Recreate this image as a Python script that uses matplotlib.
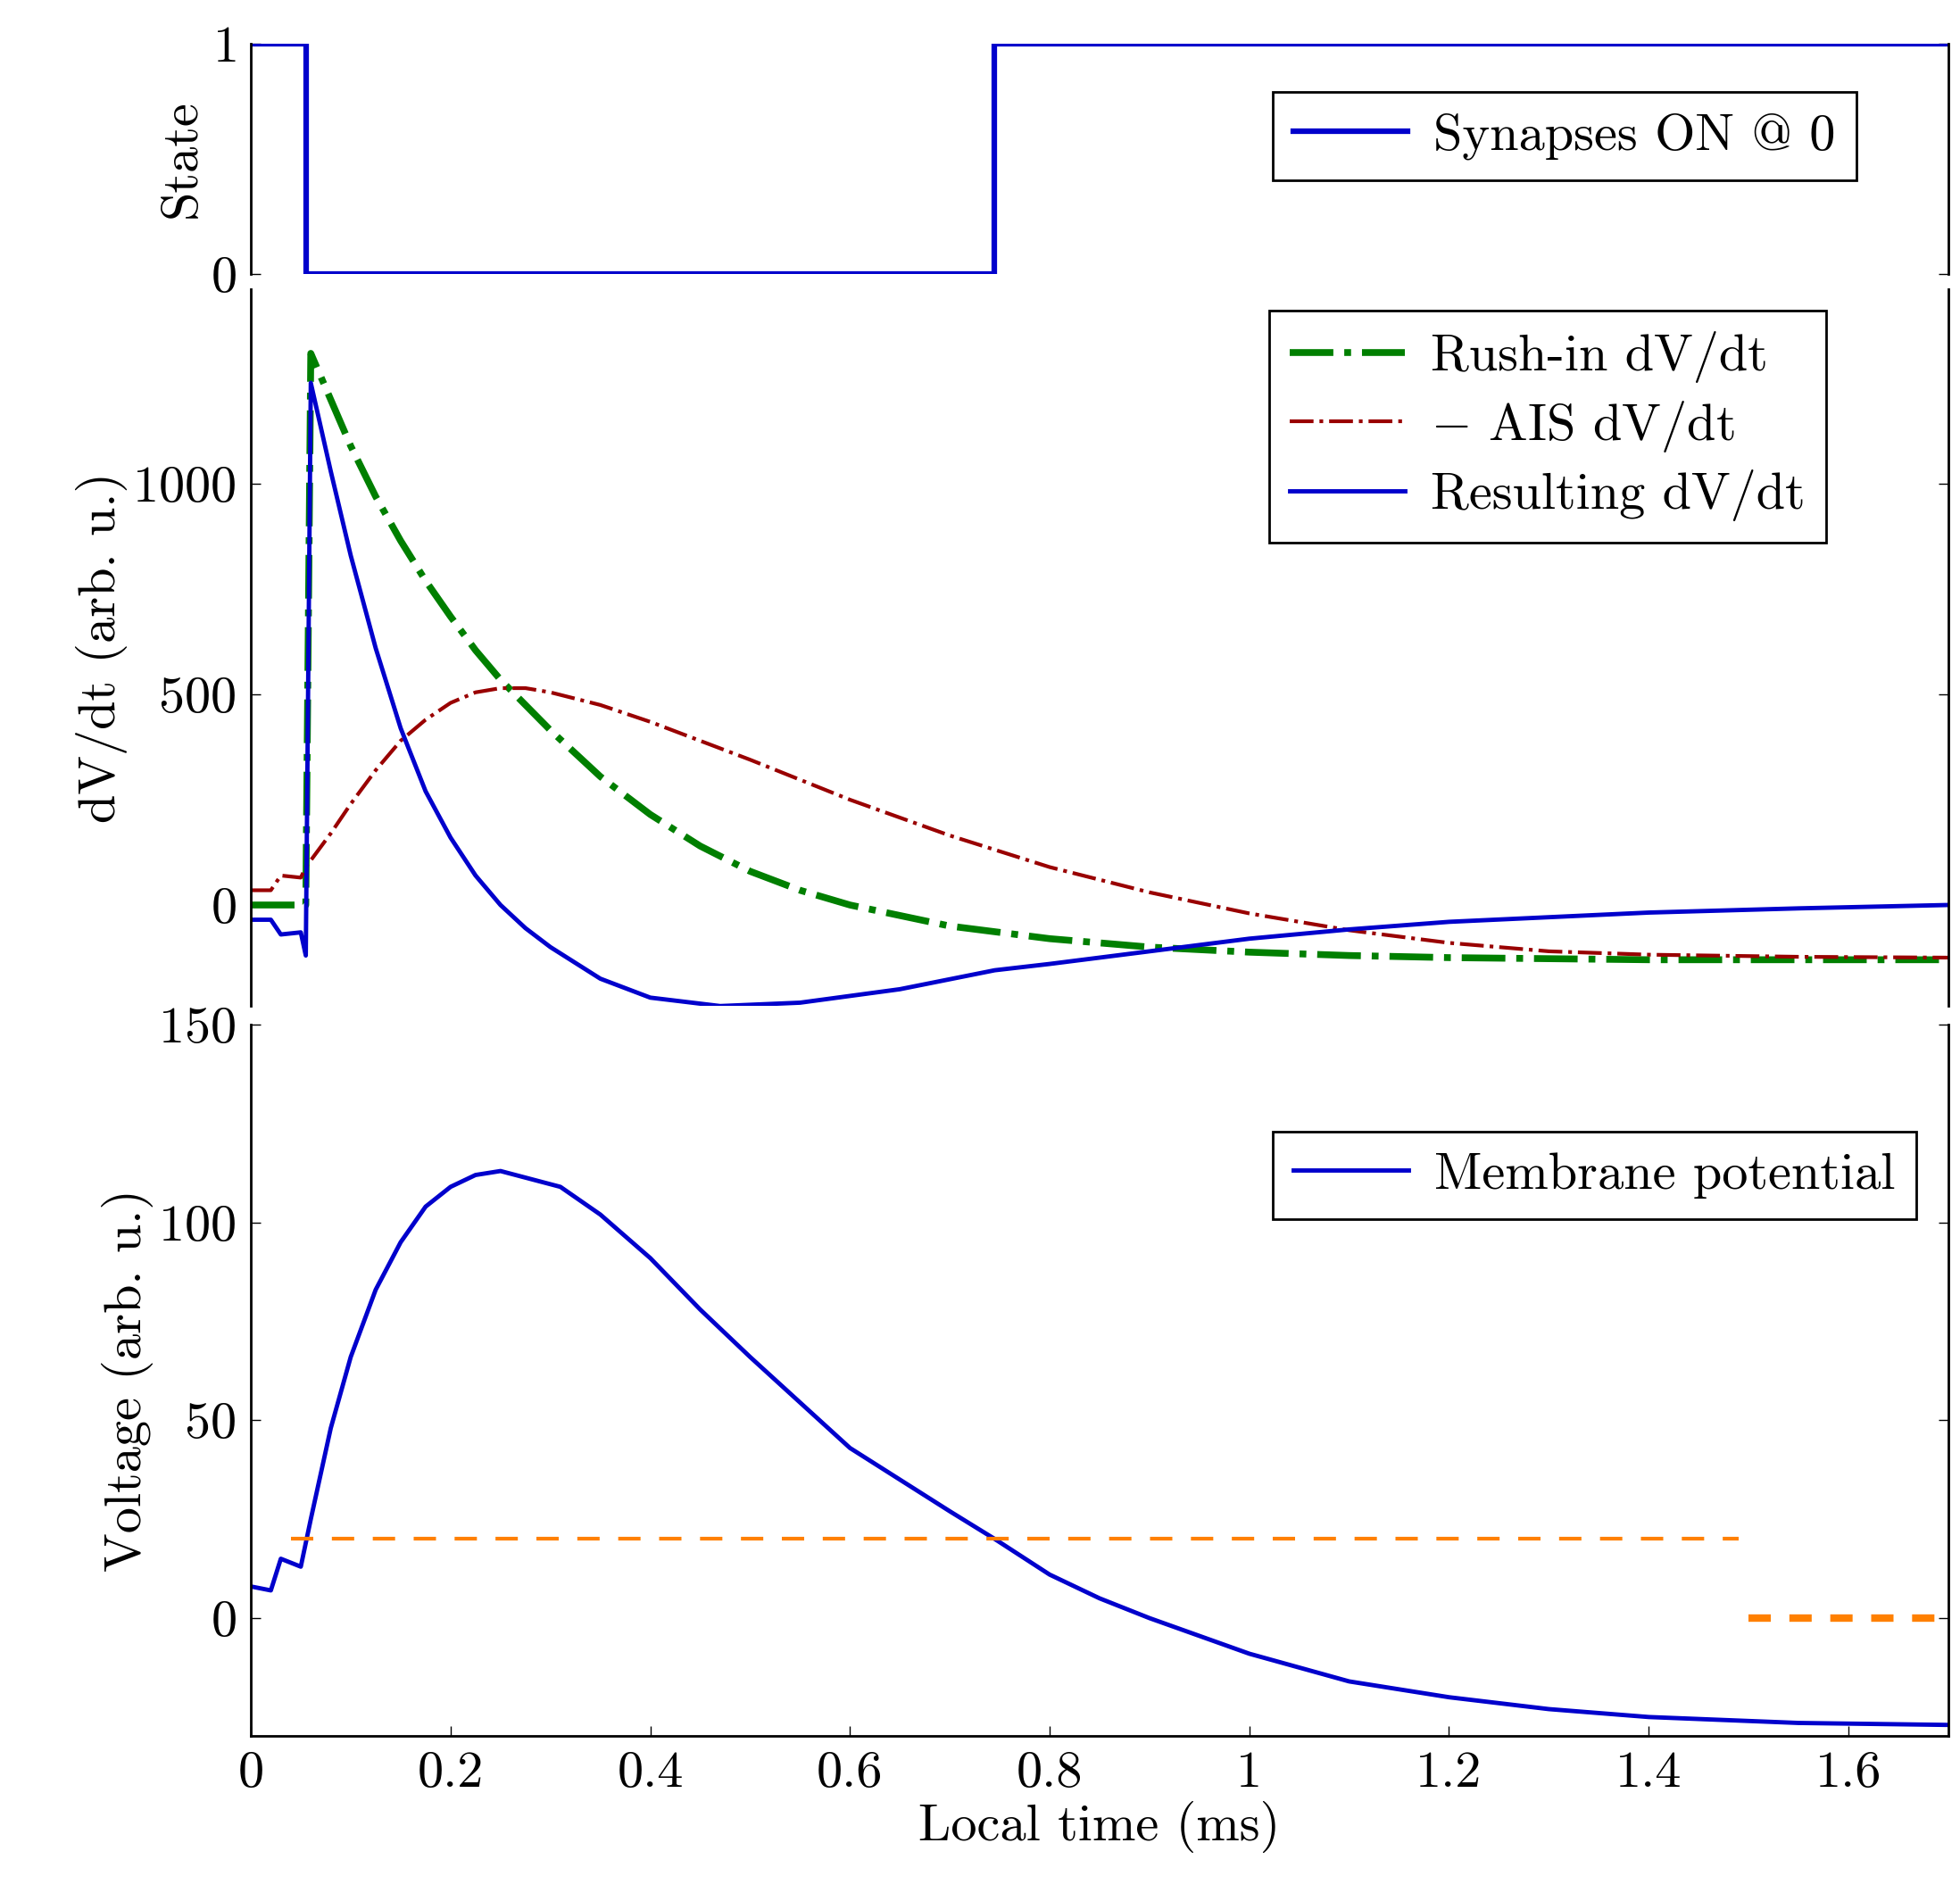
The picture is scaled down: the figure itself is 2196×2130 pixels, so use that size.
import matplotlib
matplotlib.use('Agg')
import matplotlib.pyplot as plt

plt.rcParams["font.family"] = "serif"
plt.rcParams["font.serif"] = ["cmr10"]
plt.rcParams["mathtext.fontset"] = "cm"
plt.rcParams["axes.formatter.use_mathtext"] = True
plt.rcParams["font.size"] = 42

BLUE = '#0000cc'
GREEN = '#007f00'
RED = '#990000'
ORANGE = '#ff8000'

state_t = [0, 0.055, 0.055, 0.745, 0.745, 1.7]
state_v = [1, 1, 0, 0, 1, 1]

t_rush = [0, 0.055, 0.06, 0.08, 0.1, 0.125, 0.15, 0.175, 0.2, 0.225, 0.25, 0.3, 0.35, 0.4, 0.45, 0.5, 0.55,
          0.6, 0.7, 0.8, 0.9, 1.0, 1.1, 1.2, 1.4, 1.7]
rush = [0, 0, 1310, 1200, 1090, 970, 865, 770, 685, 605, 535, 415, 305, 215, 140, 80, 35,
        0, -50, -80, -100, -112, -120, -125, -130, -130]

t_ais = [0, 0.02, 0.03, 0.05, 0.055, 0.08, 0.1, 0.125, 0.15, 0.175, 0.2, 0.225, 0.25, 0.275, 0.3, 0.35, 0.4,
         0.5, 0.6, 0.7, 0.8, 0.9, 1.0, 1.1, 1.2, 1.3, 1.4, 1.55, 1.7]
ais = [35, 35, 70, 65, 90, 170, 240, 320, 390, 440, 480, 505, 515, 515, 505, 475, 435,
       345, 250, 165, 90, 30, -20, -60, -90, -110, -118, -123, -125]

t_res = [0, 0.02, 0.03, 0.05, 0.055, 0.06, 0.08, 0.1, 0.125, 0.15, 0.175, 0.2, 0.225, 0.25, 0.275, 0.3, 0.35,
         0.4, 0.47, 0.55, 0.65, 0.745, 0.8, 0.9, 1.0, 1.1, 1.2, 1.4, 1.55, 1.7]
res = [-35, -35, -70, -65, -120, 1240, 1030, 830, 610, 420, 270, 160, 70, 0, -55, -100, -175,
       -220, -240, -232, -200, -155, -140, -110, -80, -58, -40, -18, -8, 0]

t_mem = [0, 0.02, 0.03, 0.05, 0.06, 0.08, 0.1, 0.125, 0.15, 0.175, 0.2, 0.225, 0.25, 0.28, 0.31, 0.35,
         0.4, 0.45, 0.5, 0.6, 0.7, 0.745, 0.8, 0.85, 0.9, 1.0, 1.1, 1.2, 1.3, 1.4, 1.55, 1.7]
mem = [8, 7, 15, 13, 25, 48, 66, 83, 95, 104, 109, 112, 113, 111, 109, 102,
       91, 78, 66, 43, 27, 20, 11, 5, 0, -9, -16, -20, -23, -25, -26.5, -27]

thr_t = [0.04, 1.49]
thr_v = [20, 20]
thr2_t = [1.5, 1.7]
thr2_v = [0, 0]

fig = plt.figure(figsize=(21.96, 21.3), dpi=100)
L, W = 0.128, 0.866
ax1 = fig.add_axes([L, 0.856, W, 0.121])
ax2 = fig.add_axes([L, 0.471, W, 0.377])
ax3 = fig.add_axes([L, 0.087, W, 0.374])

for ax in (ax1, ax2, ax3):
    ax.set_xlim(0, 1.7)
    ax.tick_params(direction='in', length=8, width=1, right=True, pad=12)
    ax.spines['top'].set_visible(False)
    for s in ax.spines.values():
        s.set_linewidth(2)
for ax in (ax1, ax2):
    ax.spines['bottom'].set_visible(False)
    ax.tick_params(bottom=False, labelbottom=False)
ax3.tick_params(top=False)

leg_kw = dict(fancybox=False, edgecolor='black', framealpha=1, fontsize=42,
              handlelength=2.2, borderaxespad=0, labelspacing=0.3, handletextpad=0.5)

ax1.plot(state_t, state_v, color=BLUE, lw=4.5, label='Synapses ON @ 0')
ax1.set_ylim(0, 1)
ax1.set_yticks([0, 1])
ax1.set_ylabel('State')
ax1.legend(loc='upper right', bbox_to_anchor=(0.946, 0.79), **leg_kw).get_frame().set_linewidth(2)

ax2.plot(t_rush, rush, color=GREEN, lw=5.5, ls='-.', label='Rush-in dV/dt')
ax2.plot(t_ais, ais, color=RED, lw=3, ls='-.', label='$-$ AIS dV/dt')
ax2.plot(t_res, res, color=BLUE, lw=3.5, label='Resulting dV/dt')
ax2.set_ylim(-239, 1463)
ax2.set_yticks([0, 500, 1000])
ax2.set_ylabel('dV/dt (arb. u.)')
lg = ax2.legend(loc='upper right', bbox_to_anchor=(0.928, 0.97), **leg_kw)
lg.get_frame().set_linewidth(2)
for txt in lg.get_texts():
    txt.set_ha('right')
lg._legend_box.align = 'right'

ax3.plot(t_mem, mem, color=BLUE, lw=3.5, label='Membrane potential')
ax3.plot(thr_t, thr_v, color=ORANGE, lw=3, ls=(0, (6, 5)))
ax3.plot(thr2_t, thr2_v, color=ORANGE, lw=6, ls=(0, (3, 2.5)))
ax3.set_ylim(-29.7, 150)
ax3.set_yticks([0, 50, 100, 150])
ax3.set_xticks([0, 0.2, 0.4, 0.6, 0.8, 1, 1.2, 1.4, 1.6])
ax3.set_xticklabels(['0', '0.2', '0.4', '0.6', '0.8', '1', '1.2', '1.4', '1.6'])
ax3.set_ylabel('Voltage (arb. u.)')
ax3.set_xlabel('Local time (ms)')
ax3.legend(loc='upper right', bbox_to_anchor=(0.981, 0.85), **leg_kw).get_frame().set_linewidth(2)

fig.align_ylabels([ax1, ax2, ax3])
fig.savefig('out.png', dpi=100)
